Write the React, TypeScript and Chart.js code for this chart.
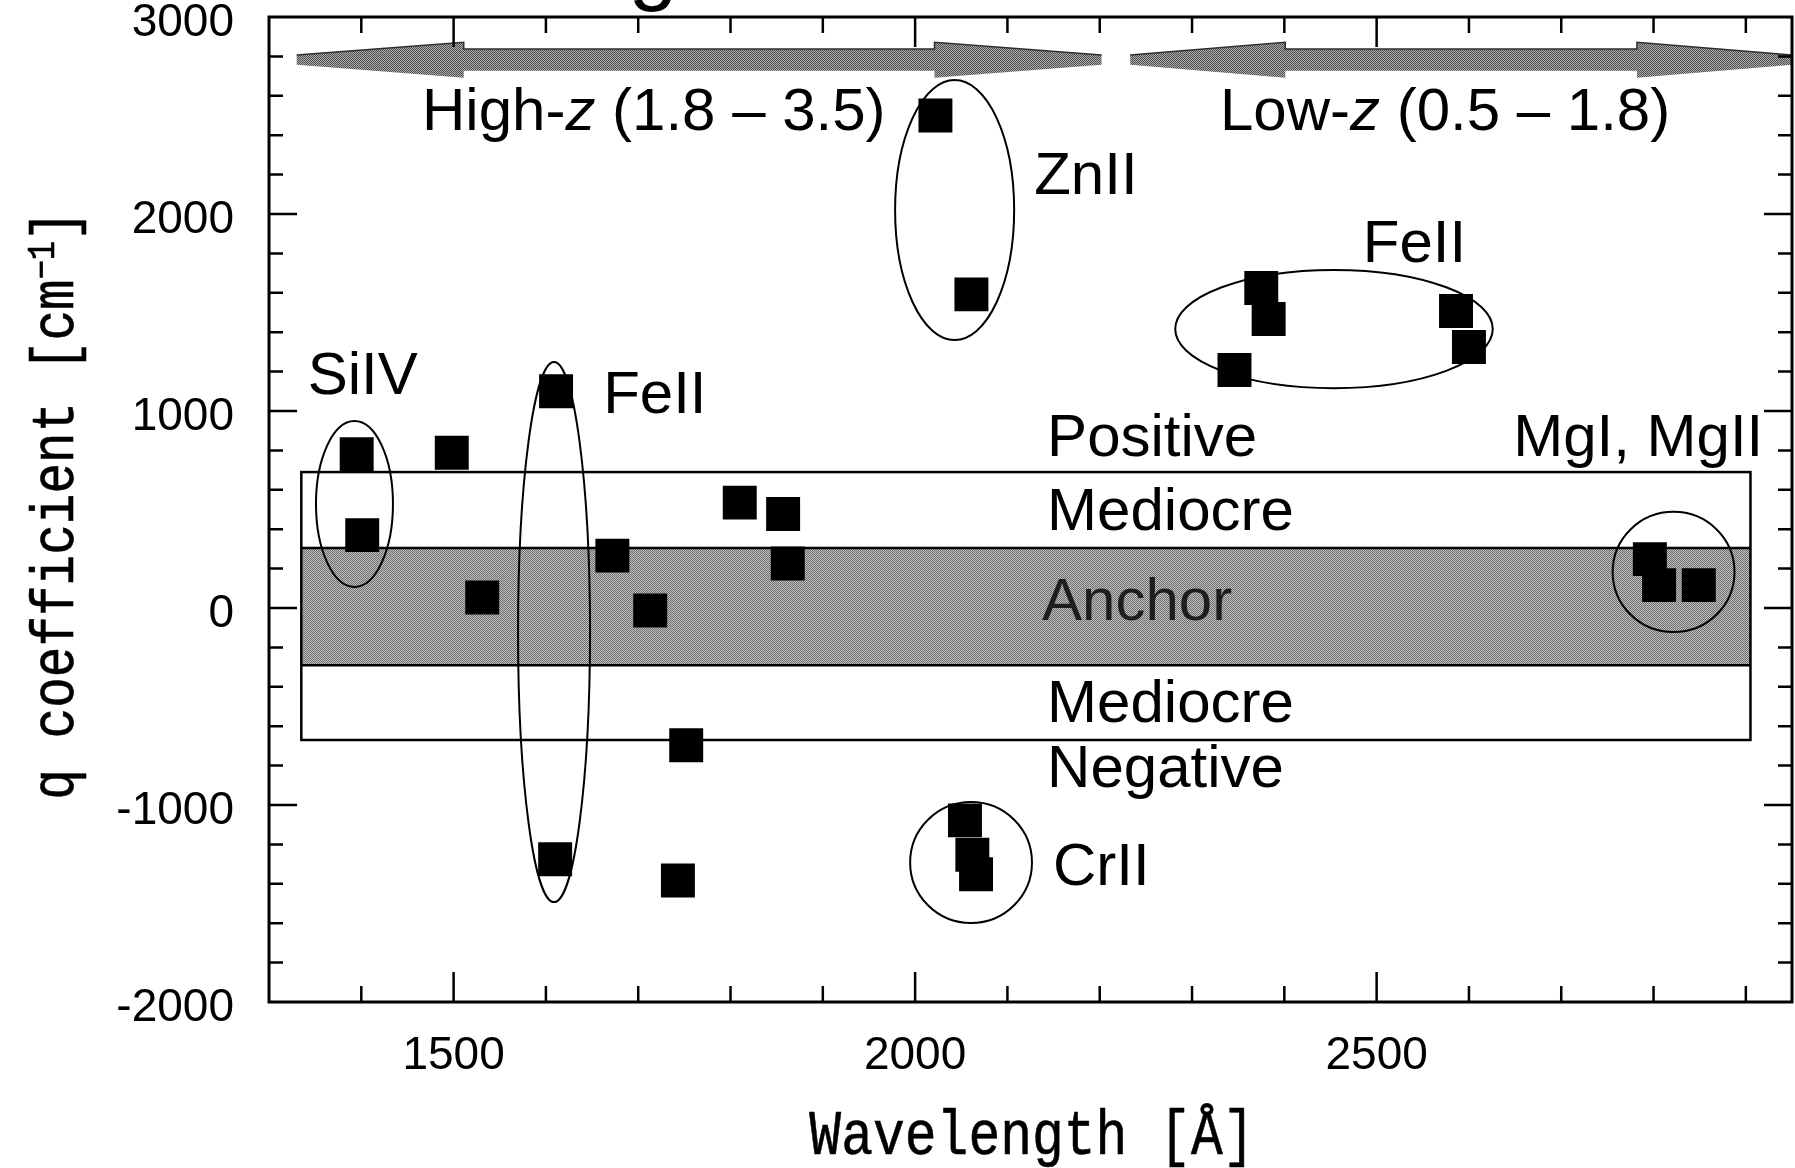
import React, { useEffect, useRef } from 'react';
import { Chart, registerables } from 'chart.js';

Chart.register(...registerables);

// Rest wavelengths of the transitions (Å) and their q coefficients (cm^-1)
const wavelengths = [
  1395, 1401, 1498, 1531, 1610, 1611, 1672, 1713, 1743, 1752, 1810, 1857, 1862,
  2022, 2054, 2061, 2062, 2066, 2346, 2375, 2383, 2586, 2600, 2796, 2806, 2849,
];
const qValues = [
  780, 370, 788, 53, -1275, 1100, 266, -13, -1383, -697, 535, 477, 226,
  2500, -1078, 1592, -1253, -1352, 1208, 1624, 1467, 1508, 1325, 248, 116, 116,
];

// Axis ranges and labelled ticks
const xRange = [1300, 2950];
const yRange = [-2000, 3000];
const xTickLabels = [1500, 2000, 2500];
const yTickLabels = [3000, 2000, 1000, 0, -1000, -2000];
const xMinorStep = 100;
const yMinorStep = 200;

// Sensitivity classes (q ranges) and their wavelength span
const bandSpan = [1335, 2905];
const mediocreBand = [-670, 690];
const anchorBand = [-290, 305];

// Redshift coverage arrows (wavelength ends) drawn at one q level
const arrowLevel = 2782;
const highZArrow = [1330, 2202];
const lowZArrow = [2233, 2950];

// Rings around groups of transitions: centre (Å, q) and half-axes (Å, q)
const groupRings = [
  { center: [1392.6, 528], half: [41.7, 421] },
  { center: [1608.8, -122], half: [39, 1371] },
  { center: [2042.8, 2020], half: [64.5, 660] },
  { center: [2453.8, 1416], half: [172, 300] },
  { center: [2821.7, 183], half: [66, 305] },
  { center: [2060.6, -1292], half: [66, 307] },
];

// Text annotations, anchored at left/baseline in data coordinates
const tags = [
  { runs: [['High-', ''], ['z', 'italic '], [' (1.8 – 3.5)', '']], at: [1465.8, 2425] },
  { runs: [['Low-', ''], ['z', 'italic '], [' (0.5 – 1.8)', '']], at: [2330.3, 2425] },
  { runs: [['ZnII', '']], at: [2129, 2100] },
  { runs: [['FeII', '']], at: [2485, 1756] },
  { runs: [['SiIV', '']], at: [1342, 1086] },
  { runs: [['FeII', '']], at: [1662, 990] },
  { runs: [['Positive', '']], at: [2143, 772] },
  { runs: [['MgI, MgII', '']], at: [2648, 772] },
  { runs: [['Mediocre', '']], at: [2143, 396] },
  { runs: [['Anchor', '']], at: [2137.5, -61], color: '#1e1e1e' },
  { runs: [['Mediocre', '']], at: [2143, -579] },
  { runs: [['Negative', '']], at: [2143, -910] },
  { runs: [['CrII', '']], at: [2149.4, -1406] },
];

const SANS = '"Liberation Sans", Arial, Helvetica, sans-serif';
const MONO = '"Liberation Mono", "Courier New", monospace';

function dither(ctx: CanvasRenderingContext2D, dark: string, light: string) {
  const c = document.createElement('canvas');
  c.width = 2;
  c.height = 2;
  const g = c.getContext('2d')!;
  g.fillStyle = light;
  g.fillRect(0, 0, 2, 2);
  g.fillStyle = dark;
  g.fillRect(0, 0, 1, 1);
  g.fillRect(1, 1, 1, 1);
  return ctx.createPattern(c, 'repeat')!;
}

function drawArrow(ctx: CanvasRenderingContext2D, xs: any, ys: any, ends: number[], head: number) {
  const x0 = xs.getPixelForValue(ends[0]);
  const x1 = xs.getPixelForValue(ends[1]);
  const b0 = xs.getPixelForValue(ends[0] + head);
  const b1 = xs.getPixelForValue(ends[1] - head);
  const yc = ys.getPixelForValue(arrowLevel);
  const hh = ys.getPixelForValue(arrowLevel - 90) - yc;
  const sh = ys.getPixelForValue(arrowLevel - 55) - yc;
  const th = ys.getPixelForValue(arrowLevel - 25) - yc;
  ctx.beginPath();
  ctx.moveTo(x0, yc - th);
  ctx.lineTo(b0, yc - hh);
  ctx.lineTo(b0, yc - sh);
  ctx.lineTo(b1, yc - sh);
  ctx.lineTo(b1, yc - hh);
  ctx.lineTo(x1, yc - th);
  ctx.lineTo(x1, yc + th);
  ctx.lineTo(b1, yc + hh);
  ctx.lineTo(b1, yc + sh);
  ctx.lineTo(b0, yc + sh);
  ctx.lineTo(b0, yc + hh);
  ctx.lineTo(x0, yc + th);
  ctx.closePath();
  ctx.fillStyle = dither(ctx, '#505050', '#ababab');
  ctx.fill();
  // darker upper contour
  ctx.beginPath();
  ctx.moveTo(x0, yc - th);
  ctx.lineTo(b0, yc - hh);
  ctx.lineTo(b0, yc - sh);
  ctx.lineTo(b1, yc - sh);
  ctx.lineTo(b1, yc - hh);
  ctx.lineTo(x1, yc - th);
  ctx.strokeStyle = '#2e2e2e';
  ctx.lineWidth = 1.5;
  ctx.stroke();
}

// monospace axis titles are filled and lightly stroked for a slightly heavier line
function typeText(ctx: CanvasRenderingContext2D, s: string, x: number, y: number) {
  ctx.fillText(s, x, y);
  ctx.strokeText(s, x, y);
}

const overlay = {
  id: 'overlay',
  beforeDatasetsDraw(chart: any) {
    const { ctx, scales } = chart;
    const xs = scales.x;
    const ys = scales.y;
    ctx.save();
    const l = xs.getPixelForValue(bandSpan[0]);
    const r = xs.getPixelForValue(bandSpan[1]);
    // anchor band
    const at = ys.getPixelForValue(anchorBand[1]);
    const ab = ys.getPixelForValue(anchorBand[0]);
    ctx.fillStyle = dither(ctx, '#707070', '#bebebe');
    ctx.fillRect(l, at, r - l, ab - at);
    ctx.strokeStyle = '#000';
    ctx.lineWidth = 2.5;
    ctx.beginPath();
    ctx.moveTo(l, at);
    ctx.lineTo(r, at);
    ctx.moveTo(l, ab);
    ctx.lineTo(r, ab);
    ctx.stroke();
    // mediocre outline
    const mt = ys.getPixelForValue(mediocreBand[1]);
    const mb = ys.getPixelForValue(mediocreBand[0]);
    ctx.strokeRect(l, mt, r - l, mb - mt);
    // redshift arrows
    drawArrow(ctx, xs, ys, highZArrow, 181);
    drawArrow(ctx, xs, ys, lowZArrow, 168);
    ctx.restore();
  },
  afterDatasetsDraw(chart: any) {
    const { ctx, scales, chartArea } = chart;
    const xs = scales.x;
    const ys = scales.y;
    ctx.save();
    // group rings
    ctx.strokeStyle = '#000';
    ctx.lineWidth = 2;
    for (const g of groupRings) {
      const cx = xs.getPixelForValue(g.center[0]);
      const cy = ys.getPixelForValue(g.center[1]);
      const rx = Math.abs(xs.getPixelForValue(g.center[0] + g.half[0]) - cx);
      const ry = Math.abs(ys.getPixelForValue(g.center[1] + g.half[1]) - cy);
      ctx.beginPath();
      ctx.ellipse(cx, cy, rx, ry, 0, 0, Math.PI * 2);
      ctx.stroke();
    }
    // annotations
    ctx.textBaseline = 'alphabetic';
    ctx.textAlign = 'left';
    for (const t of tags) {
      let px = xs.getPixelForValue(t.at[0]);
      const py = ys.getPixelForValue(t.at[1]);
      ctx.fillStyle = (t as any).color || '#000';
      for (const [s, style] of t.runs) {
        ctx.font = `${style}60px ${SANS}`;
        ctx.fillText(s, px, py);
        px += ctx.measureText(s).width;
      }
    }
    // frame with inward ticks on all sides
    const { left, right, top, bottom } = chartArea;
    ctx.strokeStyle = '#000';
    ctx.lineWidth = 2.5;
    ctx.beginPath();
    for (let v = xRange[0] + xMinorStep; v < xRange[1]; v += xMinorStep) {
      const p = xs.getPixelForValue(v);
      const len = v % 500 === 0 ? 30 : 16;
      ctx.moveTo(p, bottom);
      ctx.lineTo(p, bottom - len);
      ctx.moveTo(p, top);
      ctx.lineTo(p, top + len);
    }
    for (let v = yRange[0] + yMinorStep; v < yRange[1]; v += yMinorStep) {
      const p = ys.getPixelForValue(v);
      const len = v % 1000 === 0 ? 28 : 14;
      ctx.moveTo(left, p);
      ctx.lineTo(left + len, p);
      ctx.moveTo(right, p);
      ctx.lineTo(right - len, p);
    }
    ctx.stroke();
    ctx.lineWidth = 3;
    ctx.strokeRect(left, top, right - left, bottom - top);
    ctx.restore();
  },
  afterDraw(chart: any) {
    const { ctx } = chart;
    ctx.save();
    ctx.fillStyle = '#000';
    ctx.strokeStyle = '#000';
    ctx.lineWidth = 0.5;
    // tail of the heading above the frame
    ctx.font = `88px ${SANS}`;
    ctx.textAlign = 'center';
    ctx.textBaseline = 'alphabetic';
    ctx.fillText('g', 653, -6);

    // x-axis title
    ctx.save();
    ctx.translate(1032, 1154);
    ctx.scale(1, 1.2);
    ctx.font = `53px ${MONO}`;
    ctx.textAlign = 'center';
    typeText(ctx, 'Wavelength [Å]', 0, 0);
    ctx.restore();

    // y-axis title, rotated, with superscript
    ctx.save();
    ctx.translate(73, 505);
    ctx.rotate(-Math.PI / 2);
    ctx.scale(1, 1.2);
    ctx.textAlign = 'left';
    const main = 'q coefficient [cm';
    const sup = '−1';
    const close = ']';
    ctx.font = `51px ${MONO}`;
    const wMain = ctx.measureText(main).width;
    const wClose = ctx.measureText(close).width;
    ctx.font = `32px ${MONO}`;
    const wSup = ctx.measureText(sup).width;
    let x0 = -(wMain + wSup + wClose) / 2;
    ctx.font = `51px ${MONO}`;
    typeText(ctx, main, x0, 0);
    x0 += wMain;
    ctx.font = `32px ${MONO}`;
    typeText(ctx, sup, x0, -16);
    x0 += wSup;
    ctx.font = `51px ${MONO}`;
    typeText(ctx, close, x0, 0);
    ctx.restore();
    ctx.restore();
  },
};

const noPadding = () => ({ left: 0, top: 0, right: 0, bottom: 0 });

export default function App() {
  const ref = useRef<HTMLCanvasElement>(null);
  useEffect(() => {
    const canvas = ref.current!;
    const chart = new Chart(canvas, {
      type: 'scatter',
      data: {
        datasets: [
          {
            label: 'q',
            data: wavelengths.map((w, i) => ({ x: w, y: qValues[i] })),
            pointStyle: 'rect',
            pointRadius: 24,
            pointHoverRadius: 24,
            backgroundColor: '#000',
            borderColor: '#000',
            borderWidth: 0,
          },
        ],
      },
      options: {
        animation: false,
        responsive: false,
        maintainAspectRatio: false,
        events: [],
        layout: { autoPadding: false, padding: { left: 0, top: 17, right: 3, bottom: 0 } },
        plugins: { legend: { display: false }, tooltip: { enabled: false }, title: { display: false } },
        scales: {
          x: {
            type: 'linear',
            min: xRange[0],
            max: xRange[1],
            grid: { display: false, drawTicks: false },
            border: { display: false },
            afterBuildTicks: (s: any) => {
              s.ticks = xTickLabels.map((v) => ({ value: v }));
            },
            afterFit: (s: any) => {
              s.height = 166;
              s.paddingLeft = 0;
              s.paddingRight = 0;
              s.getPadding = noPadding;
            },
            ticks: {
              autoSkip: false,
              maxRotation: 0,
              padding: 27,
              color: '#000',
              font: { family: SANS, size: 46 },
              callback: (v: any) => String(v),
            },
          },
          y: {
            type: 'linear',
            min: yRange[0],
            max: yRange[1],
            grid: { display: false, drawTicks: false },
            border: { display: false },
            afterBuildTicks: (s: any) => {
              s.ticks = yTickLabels.map((v) => ({ value: v }));
            },
            afterFit: (s: any) => {
              s.width = 269;
              s.paddingTop = 0;
              s.paddingBottom = 0;
              s.getPadding = noPadding;
            },
            ticks: {
              autoSkip: false,
              padding: 35,
              labelOffset: 6,
              color: '#000',
              font: { family: SANS, size: 46 },
              callback: (v: any) => String(v),
            },
          },
        },
      },
      plugins: [overlay],
    });
    return () => chart.destroy();
  }, []);
  return (
    <canvas
      ref={ref}
      width={1795}
      height={1168}
      style={{ position: 'absolute', left: 0, top: 0, width: 1795, height: 1168, display: 'block', background: '#fff' }}
    />
  );
}
